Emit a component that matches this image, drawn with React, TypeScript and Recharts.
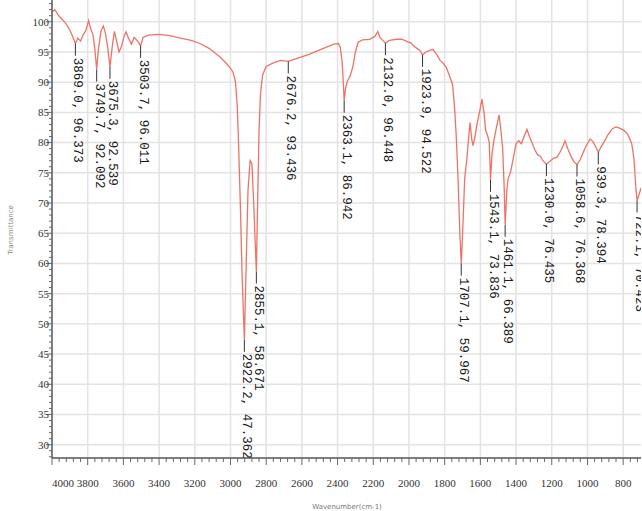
import React from 'react';
import {
  ComposedChart,
  Line,
  Scatter,
  XAxis,
  YAxis,
  ReferenceLine,
} from 'recharts';

// wavenumber (cm-1) and transmittance (%)
const wavenumbers = [
  4000, 3985, 3960, 3940, 3920, 3900, 3885, 3869.0, 3855, 3840, 3826, 3810, 3795, 3785, 3770, 3760,
  3749.7, 3740, 3725, 3712, 3700, 3688, 3675.3, 3662, 3650, 3638, 3625, 3612, 3598, 3585, 3570, 3555,
  3540, 3520, 3503.7, 3490, 3460, 3400, 3340, 3280, 3220, 3171, 3120, 3060, 3020, 3000, 2985, 2972,
  2962, 2955, 2945, 2935, 2922.2, 2912, 2902, 2890, 2880, 2870, 2855.1, 2848, 2840, 2832, 2820, 2800,
  2760, 2720, 2676.2, 2640, 2560, 2480, 2420, 2395, 2385, 2375, 2367, 2363.1, 2355, 2345, 2330, 2315,
  2300, 2285, 2260, 2220, 2190, 2175, 2162, 2150, 2132.0, 2110, 2070, 2040, 2010, 1990, 1965, 1940,
  1923.9, 1905, 1880, 1865, 1845, 1826, 1810, 1790, 1770, 1755, 1745, 1735, 1725, 1715, 1707.1, 1698,
  1688, 1675, 1665, 1658, 1648, 1641, 1630, 1619, 1605, 1591, 1580, 1570, 1558, 1550, 1543.1, 1535,
  1525, 1510, 1495, 1485, 1475, 1467, 1461.1, 1452, 1445, 1430, 1415, 1400, 1385, 1370, 1355, 1339,
  1325, 1311, 1295, 1280, 1265, 1250, 1230.0, 1210, 1190, 1171, 1150, 1135, 1126, 1110, 1090, 1075,
  1058.6, 1040, 1025, 1005, 985, 970, 955, 939.3, 925, 905, 885, 860, 840, 820, 800, 780,
  765, 752, 740, 730, 722.1, 710, 700,
];
const transmittance = [
  101.6, 102.0, 100.9, 100.3, 99.6, 98.6, 97.6, 96.373, 97.3, 96.8, 97.8, 98.6, 100.2, 99.0, 97.8, 95.5,
  92.092, 95.5, 98.5, 99.3, 98.0, 95.8, 92.539, 96.0, 98.4, 96.8, 95.0, 95.8, 97.4, 98.3, 97.2, 96.3,
  97.4, 96.8, 96.011, 97.4, 97.8, 97.9, 97.7, 97.3, 96.9, 96.4, 95.6, 94.2, 93.0, 92.3, 91.6, 90.0,
  86.0, 80.0, 70.0, 58.0, 47.362, 60.0, 72.0, 77.0, 76.5, 70.0, 58.671, 70.0, 82.0, 88.0, 91.2, 92.6,
  93.2, 93.6, 93.436, 93.8, 94.6, 95.6, 96.3, 96.4, 95.8, 93.5, 89.5, 86.942, 89.0, 90.2, 91.0, 92.5,
  95.0, 96.6, 97.0, 97.1, 97.6, 98.4, 97.4, 97.0, 96.448, 96.9, 97.1, 97.1, 96.7, 96.5, 95.8, 95.3,
  94.522, 95.0, 95.3, 95.4, 94.6, 93.6, 93.2, 92.4, 90.8, 89.5, 86.0, 81.0, 74.0, 65.0, 59.967, 66.0,
  74.0, 77.5, 81.0, 83.3, 80.5, 79.5, 81.0, 83.0, 85.0, 87.2, 85.0, 82.0, 81.0, 80.0, 73.836, 78.0,
  80.2, 82.5, 84.6, 82.0, 79.0, 73.0, 66.389, 72.0, 74.0, 75.2, 77.5, 79.8, 80.3, 79.8, 81.0, 82.2,
  81.0, 80.0, 78.8, 78.0, 77.8, 77.0, 76.435, 76.9, 77.4, 77.6, 78.6, 79.6, 80.3, 79.0, 77.6, 76.8,
  76.368, 77.2, 78.3, 79.6, 80.6, 80.2, 79.4, 78.394, 79.2, 80.2, 81.3, 82.3, 82.6, 82.4, 82.1, 81.6,
  80.8, 79.8, 77.5, 73.0, 70.423, 71.5, 72.5,
];

// picked peaks
const peakWavenumbers = [
  3869.0, 3749.7, 3675.3, 3503.7, 2922.2, 2855.1, 2676.2, 2363.1, 2132.0,
  1923.9, 1707.1, 1543.1, 1461.1, 1230.0, 1058.6, 939.3, 722.1,
];
const peakTransmittance = [
  96.373, 92.092, 92.539, 96.011, 47.362, 58.671, 93.436, 86.942, 96.448,
  94.522, 59.967, 73.836, 66.389, 76.435, 76.368, 78.394, 70.423,
];

const xMajorTicks = [4000, 3800, 3600, 3400, 3200, 3000, 2800, 2600, 2400, 2200, 2000, 1800, 1600, 1400, 1200, 1000, 800];
const yMajorTicks = [30, 35, 40, 45, 50, 55, 60, 65, 70, 75, 80, 85, 90, 95, 100];

const spectrum = wavenumbers.map((wn, i) => ({ wn, t: transmittance[i] }));
const peaks = peakWavenumbers.map((wn, i) => ({ wn, t: peakTransmittance[i] }));

const xMinorTicks: number[] = [];
for (let v = 4000; v >= 720; v -= 40) xMinorTicks.push(v);
const yMinorTicks: number[] = [];
for (let v = 28; v <= 103; v += 1) yMinorTicks.push(v);

const tickStyle = { fontFamily: '"Liberation Serif", "DejaVu Serif", serif', fontSize: 11 };

const XTick = (props: any) => {
  const { x, y, payload } = props;
  const major = xMajorTicks.includes(payload.value);
  return (
    <g>
      <line x1={x} y1={y} x2={x} y2={y + (major ? 7 : 4)} stroke="#666" strokeWidth={1} />
      {major && (
        <text
          x={x}
          y={y + 29}
          textAnchor={payload.value === 4000 ? 'start' : 'middle'}
          style={tickStyle}
          fill="#333"
        >
          {payload.value}
        </text>
      )}
    </g>
  );
};

const YTick = (props: any) => {
  const { x, y, payload } = props;
  const major = yMajorTicks.includes(payload.value);
  return (
    <g>
      <line x1={x} y1={y} x2={x - (major ? 6 : 3)} y2={y} stroke="#666" strokeWidth={1} />
      {major && (
        <text x={x - 3} y={y} dy="0.35em" textAnchor="end" style={tickStyle} fill="#333">
          {payload.value}
        </text>
      )}
    </g>
  );
};

const PeakLabel = (props: any) => {
  const { cx, cy, payload } = props;
  if (cx == null || cy == null) return <g />;
  const ty = cy + 14;
  return (
    <g>
      <line x1={cx} y1={cy} x2={cx} y2={cy + 12} stroke="#333" strokeWidth={1} />
      <text
        x={cx - 1}
        y={ty}
        transform={`rotate(90, ${cx - 1}, ${ty})`}
        style={{ fontFamily: '"Liberation Mono", monospace', fontSize: 12.5 }}
        fill="#1a1a1a"
      >
        {`${payload.wn.toFixed(1)}, ${payload.t.toFixed(3)}`}
      </text>
    </g>
  );
};

export default function App() {
  return (
    <div
      style={{
        position: 'fixed',
        left: 0,
        top: 0,
        width: 642,
        height: 511,
        overflow: 'hidden',
        background: '#fff',
      }}
    >
      <ComposedChart width={642} height={511} margin={{ top: 0, right: 1, left: 0, bottom: 0 }}>
        <XAxis
          type="number"
          dataKey="wn"
          domain={[700, 4000]}
          reversed
          allowDataOverflow
          ticks={xMinorTicks}
          interval={0}
          tickSize={0}
          tickMargin={0}
          tick={<XTick />}
          height={53}
          axisLine={{ stroke: '#555', strokeWidth: 1.5 }}
        />
        <YAxis
          type="number"
          dataKey="t"
          domain={[27.8, 103.6]}
          allowDataOverflow
          ticks={yMinorTicks}
          interval={0}
          tickSize={0}
          tickMargin={0}
          tick={<YTick />}
          width={52}
          axisLine={{ stroke: '#555', strokeWidth: 1.5 }}
        />
        {xMajorTicks.slice(1).map((v) => (
          <ReferenceLine key={`gx${v}`} x={v} stroke="#e3e3e3" strokeWidth={1.5} />
        ))}
        {yMajorTicks.map((v) => (
          <ReferenceLine key={`gy${v}`} y={v} stroke="#e3e3e3" strokeWidth={1.5} />
        ))}
        <Line
          data={spectrum}
          dataKey="t"
          type="linear"
          stroke="#ee7366"
          strokeWidth={1.3}
          dot={false}
          isAnimationActive={false}
        />
        <Scatter data={peaks} dataKey="t" shape={PeakLabel} isAnimationActive={false} />
        <text
          x={13}
          y={230}
          transform="rotate(-90, 13, 230)"
          textAnchor="middle"
          style={{ fontFamily: '"DejaVu Sans", sans-serif', fontSize: 7 }}
          fill="#888"
        >
          Transmittance
        </text>
        <text
          x={347}
          y={509}
          textAnchor="middle"
          style={{ fontFamily: '"DejaVu Sans", sans-serif', fontSize: 7 }}
          fill="#777"
        >
          Wavenumber(cm-1)
        </text>
      </ComposedChart>
    </div>
  );
}
